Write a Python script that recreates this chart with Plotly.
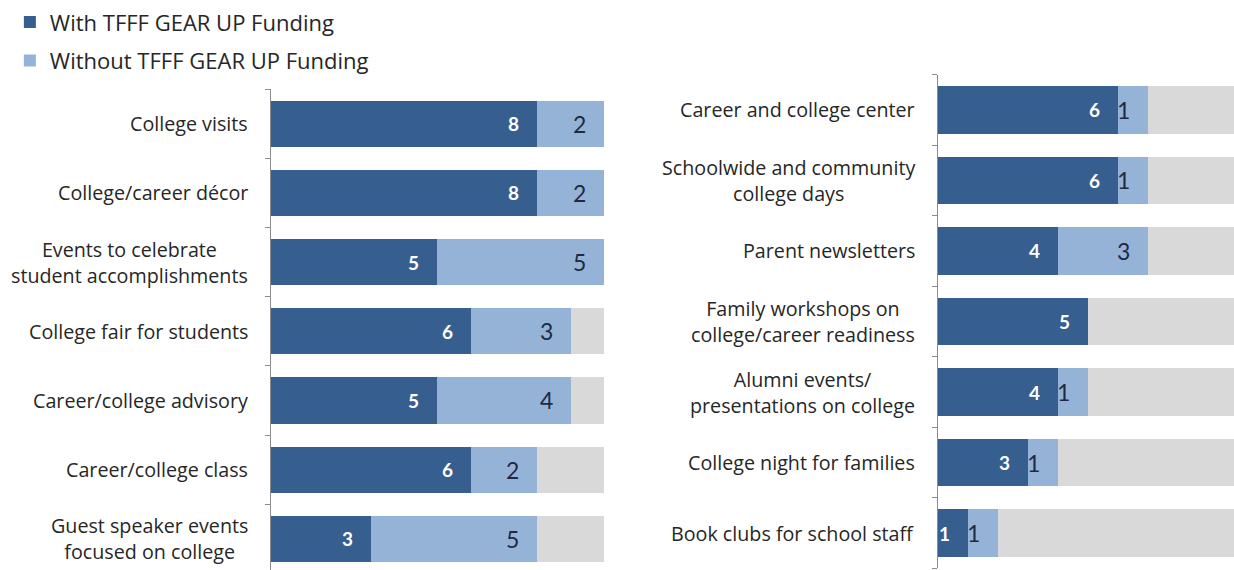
import plotly.graph_objects as go

# Activity counts (number of schools, out of 10) for each panel
left_categories = [
    "College visits",
    "College/career décor",
    "Events to celebrate<br>student accomplishments",
    "College fair for students",
    "Career/college advisory",
    "Career/college class",
    "Guest speaker events<br>focused on college",
]
left_with = [8, 8, 5, 6, 5, 6, 3]
left_without = [2, 2, 5, 3, 4, 2, 5]

right_categories = [
    "Career and college center",
    "Schoolwide and community<br>college days",
    "Parent newsletters",
    "Family workshops on<br>college/career readiness",
    "Alumni events/<br>presentations on college",
    "College night for families",
    "Book clubs for school staff",
]
right_with = [6, 6, 4, 5, 4, 3, 1]
right_without = [1, 1, 3, 0, 1, 1, 1]

TOTAL_SCHOOLS = 10

DARK = "#365E8F"
LIGHT = "#95B3D7"
GREY = "#D9D9D9"
TEXT_FONT = "Open Sans"
NUM_FONT = "Lato"
W, H = 1234, 570

fig = go.Figure()

panels = [
    # (categories, with, without, xaxis, yaxis, show legend)
    (left_categories, left_with, left_without, "x", "y", True),
    (right_categories, right_with, right_without, "x2", "y2", False),
]

for cats, w_vals, wo_vals, xa, ya, show in panels:
    idx = list(range(len(cats)))
    rest = [TOTAL_SCHOOLS - a - b for a, b in zip(w_vals, wo_vals)]
    fig.add_trace(go.Bar(
        y=idx, x=w_vals, orientation="h", name="With TFFF GEAR UP Funding",
        marker=dict(color=DARK, line=dict(width=0)), xaxis=xa, yaxis=ya,
        showlegend=show, legendgroup="with", hoverinfo="skip",
    ))
    fig.add_trace(go.Bar(
        y=idx, x=wo_vals, orientation="h", name="Without TFFF GEAR UP Funding",
        marker=dict(color=LIGHT, line=dict(width=0)), xaxis=xa, yaxis=ya,
        showlegend=show, legendgroup="without", hoverinfo="skip",
    ))
    fig.add_trace(go.Bar(
        y=idx, x=rest, orientation="h", name="Remaining schools",
        marker=dict(color=GREY, line=dict(width=0)), xaxis=xa, yaxis=ya,
        showlegend=False, hoverinfo="skip",
    ))

annotations = []
axis_px = {"x": 270.5, "x2": 938}
for cats, w_vals, wo_vals, xa, ya, _ in panels:
    # category labels, centred lines, right edge just left of the axis
    for i, c in enumerate(cats):
        annotations.append(dict(
            x=axis_px[xa] / W, xref="paper", y=i, yref=ya,
            text=c, showarrow=False, xanchor="right", yanchor="middle",
            align="center", xshift=-21,
            font=dict(family=TEXT_FONT, size=19.7, color="#262626"),
        ))
    # value labels at the inside end of each segment
    for i, (a, b) in enumerate(zip(w_vals, wo_vals)):
        if a > 0:
            annotations.append(dict(
                x=a, xref=xa, y=i, yref=ya, text=str(a), showarrow=False,
                xanchor="right", yanchor="middle", xshift=-16,
                font=dict(family=NUM_FONT, size=19, color="white", weight="bold"),
            ))
        if b > 0:
            annotations.append(dict(
                x=a + b, xref=xa, y=i, yref=ya, text=str(b), showarrow=False,
                xanchor="right", yanchor="middle", xshift=-16,
                font=dict(family=NUM_FONT, size=23, color="#1E2A44"),
            ))

axis_common = dict(
    showgrid=False, zeroline=False, fixedrange=True,
)
yaxis_common = dict(
    showgrid=False, zeroline=False, showticklabels=False,
    showline=True, linecolor="#8C8C8C", linewidth=1,
    ticks="outside", ticklen=5, tickcolor="#8C8C8C",
    tickmode="array", ticktext=[""] * 8,
)

fig.update_layout(
    width=W, height=H,
    margin=dict(l=0, r=0, t=0, b=0),
    paper_bgcolor="white", plot_bgcolor="white",
    barmode="stack", bargap=0.33,
    showlegend=True,
    legend=dict(
        x=0.008, y=0.998, xanchor="left", yanchor="top",
        font=dict(family=TEXT_FONT, size=22, color="#262626"),
        traceorder="grouped", tracegroupgap=7,
        bgcolor="rgba(0,0,0,0)", itemclick=False, itemdoubleclick=False,
    ),
    xaxis=dict(domain=[270.5 / W, 604 / W], range=[0, 10], visible=False, **axis_common),
    xaxis2=dict(domain=[938 / W, 1.0], range=[0, (W - 938) / 30], visible=False, **axis_common),
    yaxis=dict(
        domain=[0, 1 - 89.1 / H], range=[-0.5 + (H - 89.1) / 69.2, -0.5],
        anchor="x", tickvals=[i + 0.5 for i in range(-1, 7)], **yaxis_common,
    ),
    yaxis2=dict(
        domain=[1 - 568.3 / H, 1 - 74.7 / H], range=[6.5, -0.5],
        anchor="x2", tickvals=[i + 0.5 for i in range(-1, 7)], **yaxis_common,
    ),
    annotations=annotations,
)

fig.write_html("out.html")
